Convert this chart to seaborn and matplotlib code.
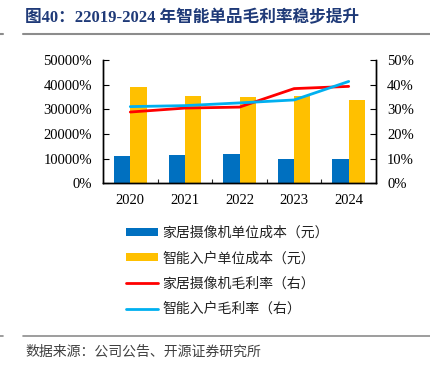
import matplotlib
matplotlib.use("Agg")
import matplotlib.pyplot as plt
import seaborn as sns
import pandas as pd
import numpy as np
from matplotlib.patches import Patch
from matplotlib.lines import Line2D
from matplotlib.ticker import FuncFormatter, FixedLocator

years = ["2020", "2021", "2022", "2023", "2024"]
camera_cost = [11000, 11300, 11700, 9700, 9800]
entry_cost = [38900, 35200, 34800, 35200, 33600]
camera_margin = [28.9, 30.5, 30.9, 38.4, 39.3]
entry_margin = [31.1, 31.5, 32.6, 33.8, 41.3]
left_ticks = [0, 10000, 20000, 30000, 40000, 50000]
right_ticks = [0, 10, 20, 30, 40, 50]

series_names = ["家居摄像机单位成本（元）", "智能入户单位成本（元）",
                "家居摄像机毛利率（右）", "智能入户毛利率（右）"]
c_blue, c_yellow, c_red, c_cyan = "#0070C0", "#FFC000", "#FF0000", "#00B0F0"

sns.set_style("white")
plt.rcParams["font.family"] = ["Liberation Serif", "Noto Sans CJK SC"]

bars = pd.DataFrame({
    "year": years * 2,
    "cost": camera_cost + entry_cost,
    "series": [series_names[0]] * 5 + [series_names[1]] * 5,
})

fig = plt.figure(figsize=(4.31, 3.72), dpi=100)
ax = fig.add_axes([103/431, 1-183.3/372, (376-103)/431, (183.3-60)/372])

sns.barplot(data=bars, x="year", y="cost", hue="series", palette=[c_blue, c_yellow],
            width=0.6, ax=ax, legend=False, saturation=1, linewidth=0)
ax.set_xlim(-0.5, 4.5)
ax.set_ylim(0, 50000)
ax.set_yticks(left_ticks)
ax.yaxis.set_major_formatter(FuncFormatter(lambda v, p: f"{int(v)}%"))
ax.set_xlabel("")
ax.set_ylabel("")

ax2 = ax.twinx()
x_idx = np.arange(len(years))
sns.lineplot(x=x_idx, y=camera_margin, color=c_red, lw=2, ax=ax2, sort=False)
sns.lineplot(x=x_idx, y=entry_margin, color=c_cyan, lw=2, ax=ax2, sort=False)
ax2.set_ylim(0, 50)
ax2.set_yticks(right_ticks)
ax2.yaxis.set_major_formatter(FuncFormatter(lambda v, p: f"{int(v)}%"))
ax2.set_xlim(-0.5, 4.5)

for a in (ax, ax2):
    for s in a.spines.values():
        s.set_color("black")
        s.set_linewidth(1.0)
    a.spines["top"].set_visible(False)
    a.grid(False)

ax.tick_params(axis="y", direction="in", length=4, width=0.8, pad=8, labelsize=10.5,
               left=True, colors="black")
ax2.tick_params(axis="y", direction="in", length=4, width=0.8, pad=8, labelsize=10.5,
                right=True, colors="black")
ax.tick_params(axis="x", which="major", length=0, pad=8, labelsize=10.5, colors="black")
ax.xaxis.set_minor_locator(FixedLocator([0.5, 1.5, 2.5, 3.5]))
ax.tick_params(axis="x", which="minor", direction="in", length=3, width=0.8, bottom=True)

handles = [
    Patch(facecolor=c_blue, edgecolor="none"),
    Patch(facecolor=c_yellow, edgecolor="none"),
    Line2D([], [], color=c_red, lw=2),
    Line2D([], [], color=c_cyan, lw=2),
]
fig.legend(handles, series_names, loc="upper left", bbox_to_anchor=(126/431, 1-226/372),
           frameon=False, handlelength=2.3, handleheight=0.5, handletextpad=0.3,
           labelspacing=0.82, borderpad=0, borderaxespad=0,
           prop={"family": ["Noto Sans CJK SC"], "size": 10})
for t in fig.legends[0].get_texts():
    t.set_color("#222222")

fig.text(25/431, 1-18/372, "图40：22019-2024 年智能单品毛利率稳步提升",
         fontsize=12, fontweight="bold", color="#1F3A78", va="center", ha="left",
         family=["Liberation Serif", "Noto Sans CJK SC"])
fig.add_artist(Line2D([23/431, 1], [1-33.5/372, 1-33.5/372], color="#8C8C8C", lw=1.5,
                      transform=fig.transFigure))
fig.add_artist(Line2D([0, 3/431], [1-33.5/372, 1-33.5/372], color="#8C8C8C", lw=1.5,
                      transform=fig.transFigure))
fig.add_artist(Line2D([23/431, 1], [1-335.7/372, 1-335.7/372], color="#8C8C8C", lw=1.2,
                      transform=fig.transFigure))
fig.add_artist(Line2D([0, 3/431], [1-335.7/372, 1-335.7/372], color="#8C8C8C", lw=1.2,
                      transform=fig.transFigure))
fig.text(25/431, 1-351.5/372, "数据来源：公司公告、开源证券研究所", fontsize=10,
         color="#404040", va="center", ha="left", family=["Noto Sans CJK SC"])

fig.savefig("out.png", dpi=100)
